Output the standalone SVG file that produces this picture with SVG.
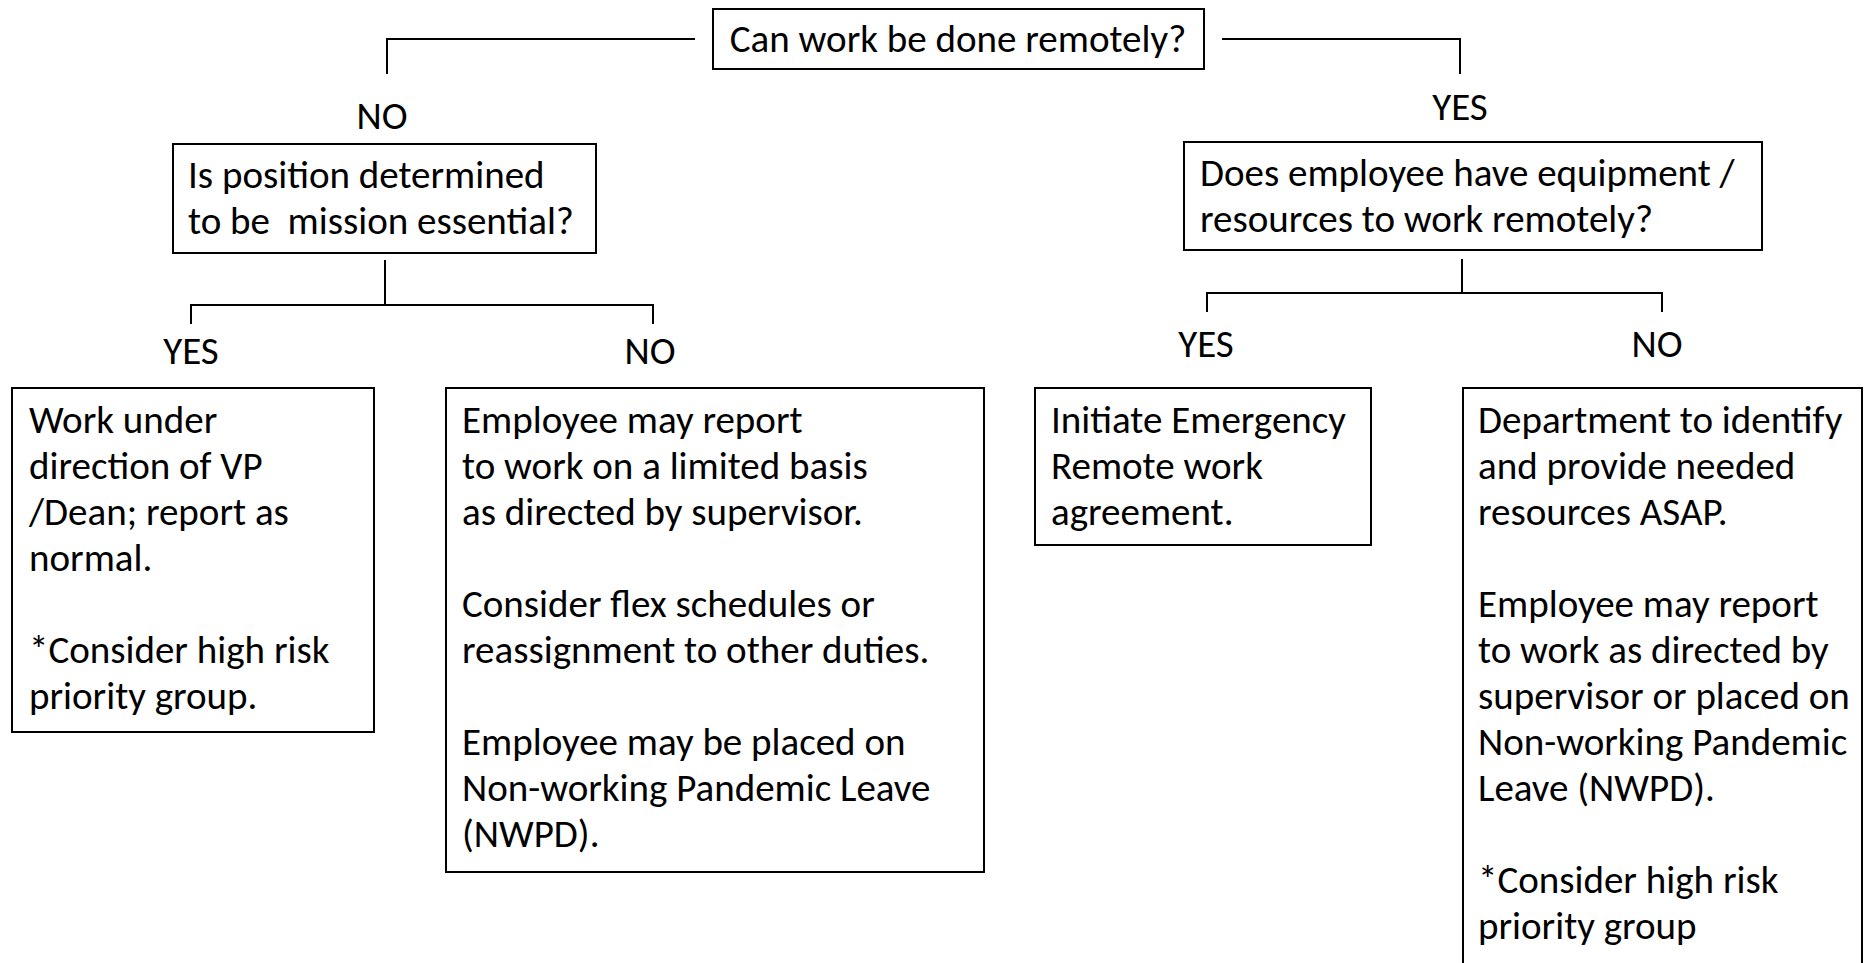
<svg xmlns="http://www.w3.org/2000/svg" width="1869" height="963" viewBox="0 0 1869 963">
<style>
.box{fill:#fff;stroke:#000;stroke-width:2}
.ln{fill:none;stroke:#000;stroke-width:2}
text{font-family:Carlito,Lato,"Liberation Sans",sans-serif;font-size:39px;fill:#000;white-space:pre}
.c{text-anchor:middle}
</style>
<rect width="1869" height="963" fill="#fff"/>
<g id="connectors">
<polyline class="ln" points="695,39 387,39 387,74"/>
<polyline class="ln" points="1222,39 1460,39 1460,74"/>
<polyline class="ln" points="385,260 385,305"/>
<polyline class="ln" points="191,324 191,305 653,305 653,324"/>
<polyline class="ln" points="1462,259 1462,293"/>
<polyline class="ln" points="1207,312 1207,293 1662,293 1662,312"/>
<text class="c" x="382" y="129">NO</text>
<text class="c" x="1460" y="120">YES</text>
<text class="c" x="191" y="364">YES</text>
<text class="c" x="650" y="364">NO</text>
<text class="c" x="1206" y="357">YES</text>
<text class="c" x="1657" y="357">NO</text>
</g>
<g id="q-remote">
<rect class="box" x="713" y="9" width="491" height="60"/>
<text class="c" x="958" y="52">Can work be done remotely?</text>
</g>
<g id="q-essential">
<rect class="box" x="173" y="144" width="423" height="109"/>
<text x="188" y="188">Is position determined</text>
<text x="188" y="234" xml:space="preserve">to be  mission essential?</text>
</g>
<g id="q-equipment">
<rect class="box" x="1184" y="142" width="578" height="108"/>
<text x="1200" y="186">Does employee have equipment /</text>
<text x="1200" y="232">resources to work remotely?</text>
</g>
<g id="a-essential-yes">
<rect class="box" x="12" y="388" width="362" height="344"/>
<text x="29" y="433">Work under</text>
<text x="29" y="479">direction of VP</text>
<text x="29" y="525">/Dean; report as</text>
<text x="29" y="571">normal.</text>
<text x="29" y="663">*Consider high risk</text>
<text x="29" y="709">priority group.</text>
</g>
<g id="a-essential-no">
<rect class="box" x="446" y="388" width="538" height="484"/>
<text x="462" y="433">Employee may report</text>
<text x="462" y="479">to work on a limited basis</text>
<text x="462" y="525">as directed by supervisor.</text>
<text x="462" y="617">Consider flex schedules or</text>
<text x="462" y="663">reassignment to other duties.</text>
<text x="462" y="755">Employee may be placed on</text>
<text x="462" y="801">Non-working Pandemic Leave</text>
<text x="462" y="847">(NWPD).</text>
</g>
<g id="a-equipment-yes">
<rect class="box" x="1035" y="388" width="336" height="157"/>
<text x="1051" y="433">Initiate Emergency</text>
<text x="1051" y="479">Remote work</text>
<text x="1051" y="525">agreement.</text>
</g>
<g id="a-equipment-no">
<rect class="box" x="1463" y="388" width="399" height="590"/>
<text x="1478" y="433">Department to identify</text>
<text x="1478" y="479">and provide needed</text>
<text x="1478" y="525">resources ASAP.</text>
<text x="1478" y="617">Employee may report</text>
<text x="1478" y="663">to work as directed by</text>
<text x="1478" y="709">supervisor or placed on</text>
<text x="1478" y="755">Non-working Pandemic</text>
<text x="1478" y="801">Leave (NWPD).</text>
<text x="1478" y="893">*Consider high risk</text>
<text x="1478" y="939">priority group</text>
</g>
</svg>
